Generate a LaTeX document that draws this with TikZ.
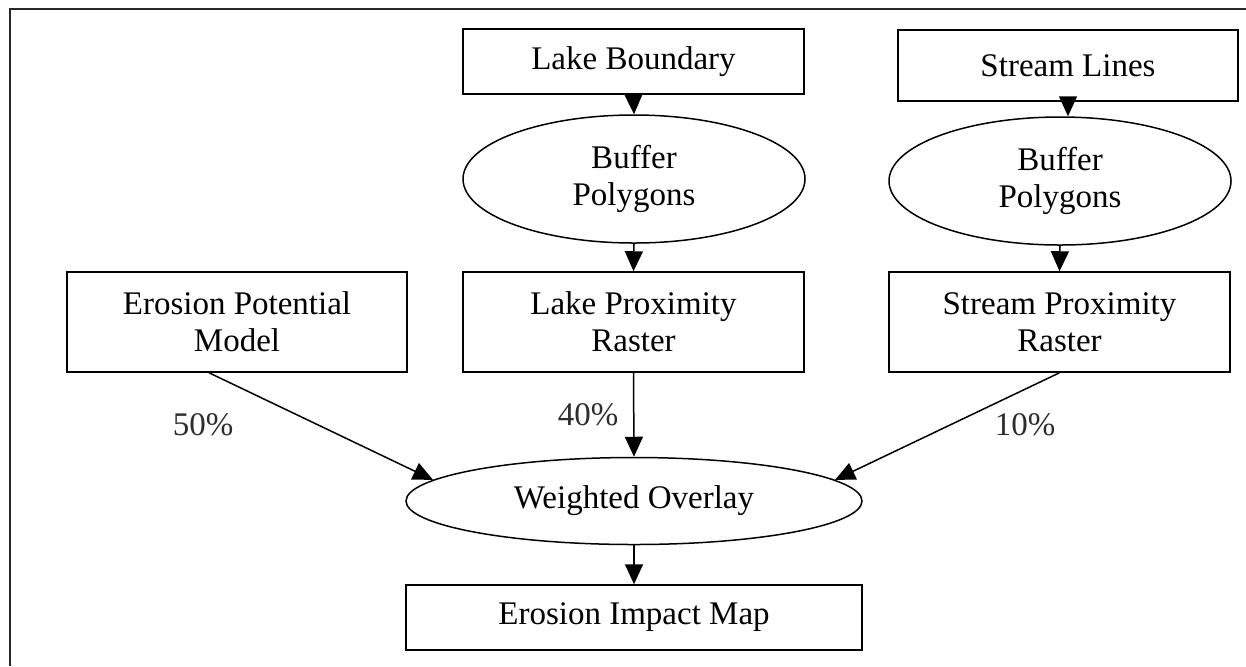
\documentclass[tikz,border=0pt]{standalone}
\usepackage{fontspec}
\setmainfont{Liberation Serif}
\usepackage{xcolor}
\usepackage{tikz}
\usetikzlibrary{arrows.meta,shapes.geometric}
\definecolor{FlowInk}{RGB}{0, 0, 0}
\definecolor{FlowFrame}{RGB}{40, 40, 40}
\definecolor{FlowWeight}{RGB}{45, 45, 45}

\tikzset{
  databox/.style={draw=FlowInk, line width=0.75pt, rectangle, inner sep=0pt, align=center,
    font=\fontsize{16.5}{18.5}\selectfont},
  toolcell/.style={draw=FlowInk, line width=0.75pt, ellipse, inner sep=0pt, align=center,
    font=\fontsize{16.5}{18.5}\selectfont},
  flowarr/.style={draw=FlowInk, line width=0.75pt, -{Triangle[length=10pt,width=9pt]}},
  weightlbl/.style={text=FlowWeight, inner sep=0pt, font=\fontsize{16.5}{18.5}\selectfont}
}

\begin{document}
\begin{tikzpicture}[x=0.5pt, y=-0.5pt]
    \useasboundingbox (0,0) rectangle (1246,666);
    \draw[FlowFrame, line width=1.2pt] (10,666) -- (10,9) -- (1246,9);

    % inputs and buffers
    \node[databox, minimum width=170.5pt, minimum height=32.5pt] (lakeB) at (633.5,61.5) {Lake Boundary};
    \node[databox, minimum width=170pt, minimum height=35.5pt] (streamL) at (1068,65.5) {Stream Lines};
    \node[toolcell, minimum width=171pt, minimum height=64pt] (bufLake) at (634,179) {Buffer\\Polygons};
    \node[toolcell, minimum width=171pt, minimum height=64pt] (bufStream) at (1060,181) {Buffer\\Polygons};

    % rasters
    \node[databox, minimum width=170pt, minimum height=50pt] (erosionPM) at (237,322) {Erosion Potential\\Model};
    \node[databox, minimum width=170.5pt, minimum height=50pt] (lakePR) at (633.5,322) {Lake Proximity\\Raster};
    \node[databox, minimum width=170.5pt, minimum height=50pt] (streamPR) at (1059.5,322) {Stream Proximity\\Raster};

    % overlay and result
    \node[toolcell, minimum width=228pt, minimum height=43.5pt] (overlay) at (634,501) {Weighted Overlay};
    \node[databox, minimum width=228pt, minimum height=32.5pt] (impact) at (634,617.5) {Erosion Impact Map};

    \draw[flowarr] (lakeB.south) -- (bufLake.north);
    \draw[flowarr] (streamL.south) -- (streamL.south |- bufStream.north);
    \draw[flowarr] (bufLake.south) -- (lakePR.north);
    \draw[flowarr] (bufStream.south) -- (streamPR.north);
    \draw[flowarr] ([xshift=-14pt]erosionPM.south) -- (overlay.174);
    \draw[flowarr] (lakePR.south) -- (overlay.north);
    \draw[flowarr] (streamPR.south) -- (overlay.6);
    \draw[flowarr] (overlay.south) -- (impact.north);

    \node[weightlbl] (w50) at (203,425) {50\%};
    \node[weightlbl] (w40) at (588,415) {40\%};
    \node[weightlbl] (w10) at (1025,425) {10\%};
\end{tikzpicture}
\end{document}
